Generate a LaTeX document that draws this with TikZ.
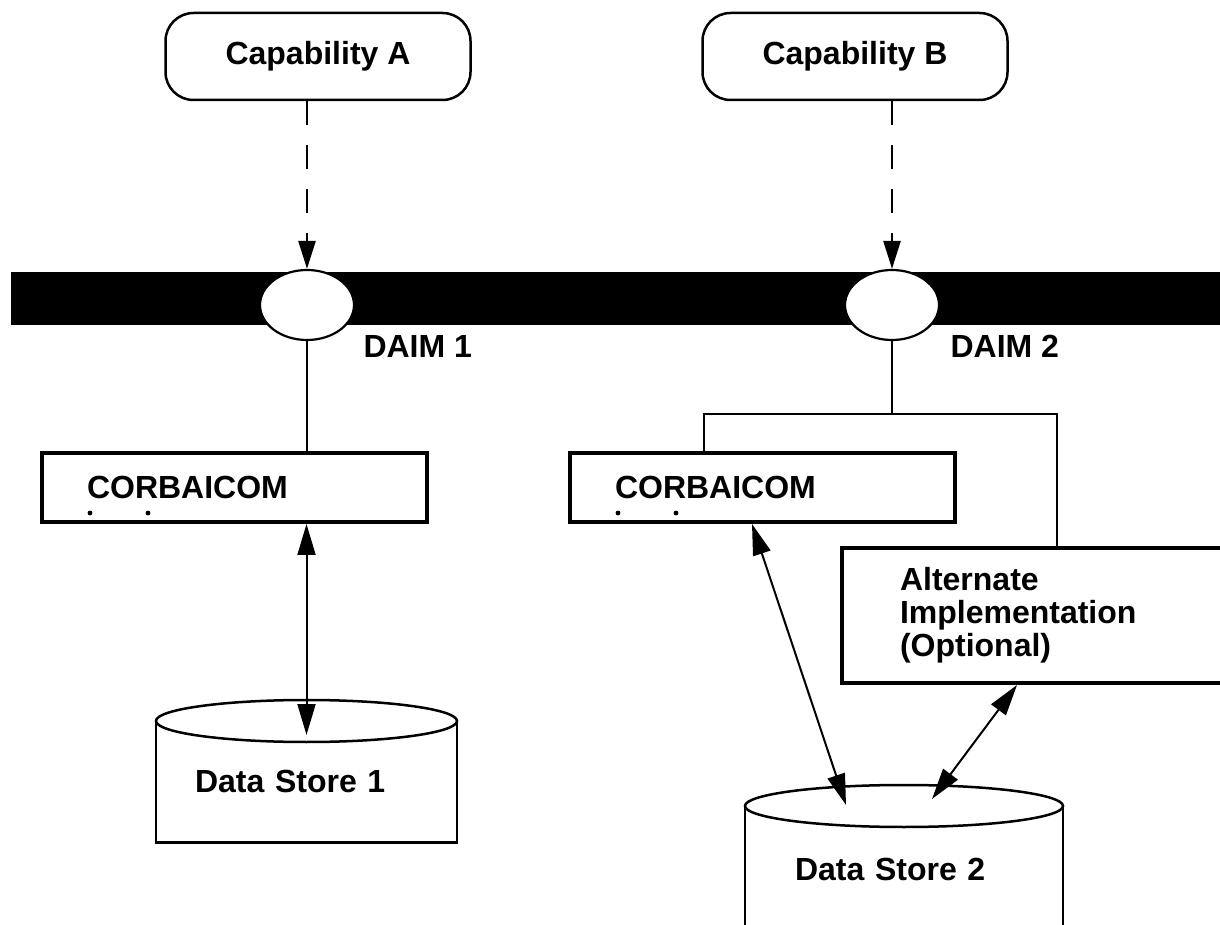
\documentclass[tikz,border=0pt]{standalone}
\usepackage{fontspec}
\setmainfont{Liberation Sans}
\usetikzlibrary{shapes.geometric,arrows.meta}

\begin{document}
\begin{tikzpicture}[x=1pt,y=1pt,
		font=\fontsize{32}{33}\selectfont\bfseries,
		capbox/.style={draw, line width=2.5pt, rounded corners=28pt, minimum width=305pt, minimum height=87pt, inner sep=0pt},
		daim/.style={ellipse, draw, line width=2.2pt, fill=white, minimum width=94pt, minimum height=70pt, inner sep=0pt},
		bus/.style={fill=black, minimum width=1214pt, minimum height=53pt, inner sep=0pt},
		corba/.style={draw, line width=4pt, text width=295pt, inner xsep=45pt, minimum height=69pt, align=left},
		altbox/.style={draw, line width=4pt, text width=264pt, inner xsep=58pt, minimum height=135pt, align=left},
		store/.style={text width=#1, align=left, inner ysep=0pt},
		cyl/.style={line width=2.5pt},
		wire/.style={line width=2pt},
		dasharr/.style={line width=2.5pt, dash pattern=on 24pt off 20pt, -{Triangle[length=28pt,width=17pt]}},
		biarr/.style={line width=2pt, {Triangle[length=31pt,width=18pt]}-{Triangle[length=31pt,width=18pt]}}]
	\useasboundingbox (0,0) rectangle (1220,924);

	\node[capbox] (capA) at (318,867.5) {Capability A};
	\node[capbox] (capB) at (855,867.5) {Capability B};

	\node[bus] (bus) at (618,625.5) {};
	\node[daim] (daimA) at (307,619) {};
	\node[daim] (daimB) at (892,619) {};
	\node[anchor=base west] (daimAlbl) at (360,566) {DAIM 1};
	\node[anchor=base west] (daimBlbl) at (947,566) {DAIM 2};

	\node[corba] (corbaA) at (234.5,436.5) {CORBAICOM};
	\node[corba] (corbaB) at (762.5,436.5) {CORBAICOM};
	\node[altbox] (alt) at (1032,308.5) {Alternate\\Implementation\\(Optional)};

	\node[store=223pt, inner xsep=39pt, minimum height=121pt, anchor=north] (storeA) at (306.5,203) {Data Store 1};
	\node[store=218pt, inner xsep=50pt, minimum height=126pt, anchor=north] (storeB) at (904,118) {Data Store 2};
	\draw[cyl] (storeA.north west) -- (storeA.south west) -- (storeA.south east) -- (storeA.north east);
	\draw[cyl, fill=white] (storeA.north) ellipse [x radius=150.5, y radius=21];
	\draw[cyl] (storeB.north west) -- (storeB.south west) -- (storeB.south east) -- (storeB.north east);
	\draw[cyl, fill=white] (storeB.north) ellipse [x radius=159, y radius=21];

	\foreach \b in {corbaA,corbaB}
		\foreach \dx in {50,108}
			\fill ([xshift=\dx pt,yshift=11pt]\b.south west) circle (2.4pt);

	% links
	\draw[dasharr] (daimA.north |- capA.south) -- (daimA.north);
	\draw[dasharr] (daimB.north |- capB.south) -- (daimB.north);
	\draw[wire] (daimA.south) -- (daimA.south |- corbaA.north);
	\draw[biarr] (storeA.north |- corbaA.south) -- ([yshift=-14pt]storeA.north);

	\coordinate (forkL) at (704,510);
	\coordinate (forkR) at (1057,510);
	\draw[wire] (daimB.south) -- (daimB.south |- forkL);
	\draw[wire] (forkL |- corbaB.north) -- (forkL) -- (forkR) -- (forkR |- alt.north);
	\draw[biarr] ([xshift=-10.5pt]corbaB.south) -- ([xshift=-58pt,yshift=1pt]storeB.north);
	\draw[biarr] ([xshift=-15pt]alt.south) -- ([xshift=28pt,yshift=7pt]storeB.north);
\end{tikzpicture}
\end{document}
